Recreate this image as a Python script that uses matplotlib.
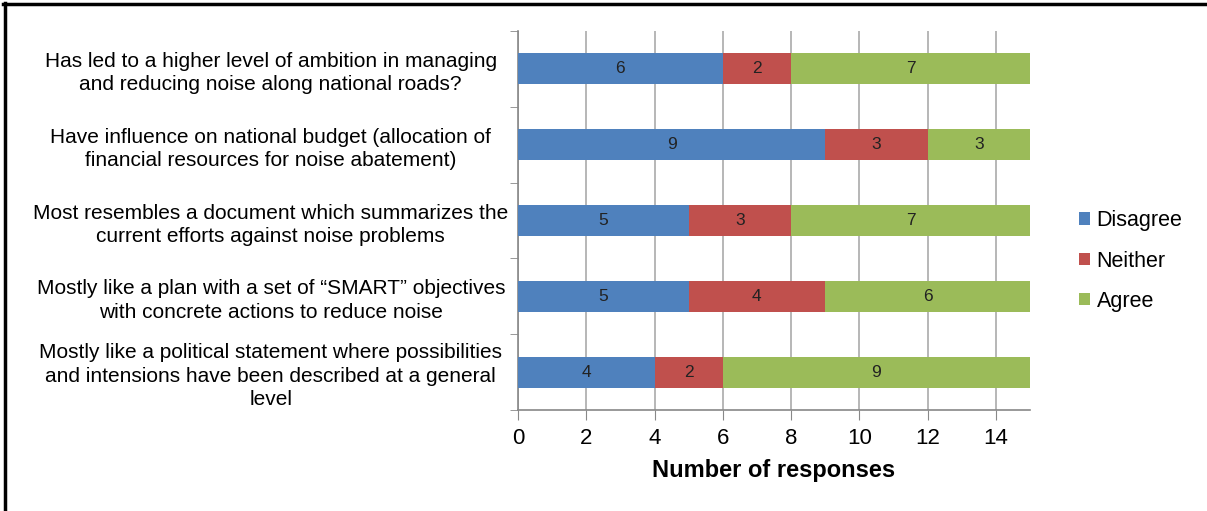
import matplotlib
matplotlib.use("Agg")
import matplotlib.pyplot as plt
import numpy as np
from matplotlib.lines import Line2D

plt.rcParams['font.family'] = ['Liberation Sans', 'DejaVu Sans']

categories = [
    "Has led to a higher level of ambition in managing\nand reducing noise along national roads?",
    "Have influence on national budget (allocation of\nfinancial resources for noise abatement)",
    "Most resembles a document which summarizes the\ncurrent efforts against noise problems",
    "Mostly like a plan with a set of \u201cSMART\u201d objectives\nwith concrete actions to reduce noise",
    "Mostly like a political statement where possibilities\nand intensions have been described at a general\nlevel",
]
disagree = [6, 9, 5, 5, 4]
neither = [2, 3, 3, 4, 2]
agree = [7, 3, 7, 6, 9]
series_names = ["Disagree", "Neither", "Agree"]
colors = ["#4F81BD", "#C0504D", "#9BBB59"]
xticks = [0, 2, 4, 6, 8, 10, 12, 14]

fig = plt.figure(figsize=(12.07, 5.11), dpi=100)
ax = fig.add_axes([518/1207, 1 - 410/511, (1030-518)/1207, (410-31)/511])

y = np.arange(len(categories))[::-1]
left = np.zeros(len(categories))
for vals, name, col in zip([disagree, neither, agree], series_names, colors):
    bars = ax.barh(y, vals, left=left, height=0.41, color=col, label=name, zorder=3)
    ax.bar_label(bars, labels=[str(v) for v in vals], label_type='center',
                 fontsize=12.5, color='#222222')
    left += np.array(vals)

ax.set_xlim(0, 15)
ax.set_ylim(-0.5, len(categories) - 0.5)
ax.set_xticks(xticks)
ax.set_xticklabels([str(t) for t in xticks], fontsize=16)
ax.tick_params(axis='x', length=7, color='#888888', pad=6)
ax.set_yticks(y)
ax.set_yticklabels(categories, fontsize=15, ha='center', linespacing=1.3)
ax.tick_params(axis='y', length=0, pad=178)
# category boundary ticks
ax.set_yticks(np.arange(-0.5, len(categories), 1.0), minor=True)
ax.tick_params(axis='y', which='minor', length=6, color='#888888')
ax.grid(axis='x', color='#AAAAAA', linewidth=1.2, zorder=0)
for s in ['top', 'right']:
    ax.spines[s].set_visible(False)
for s in ['left', 'bottom']:
    ax.spines[s].set_color('#888888')
    ax.spines[s].set_linewidth(1.2)
ax.set_xlabel("Number of responses", fontsize=17, fontweight='bold', labelpad=7)

ax.legend(loc='center left', bbox_to_anchor=(1060/1207, 1 - 261/511),
          bbox_transform=fig.transFigure, frameon=False, fontsize=15.5,
          handlelength=0.5, handleheight=0.5, handletextpad=0.3, labelspacing=0.9)

# frame lines (left and top)
fig.add_artist(Line2D([5/1207, 5/1207], [0, 1 - 3/511], transform=fig.transFigure, color='black', linewidth=2.5))
fig.add_artist(Line2D([3/1207, 1], [1 - 4/511, 1 - 4/511], transform=fig.transFigure, color='black', linewidth=2.5))

fig.savefig("out.png", dpi=100)
